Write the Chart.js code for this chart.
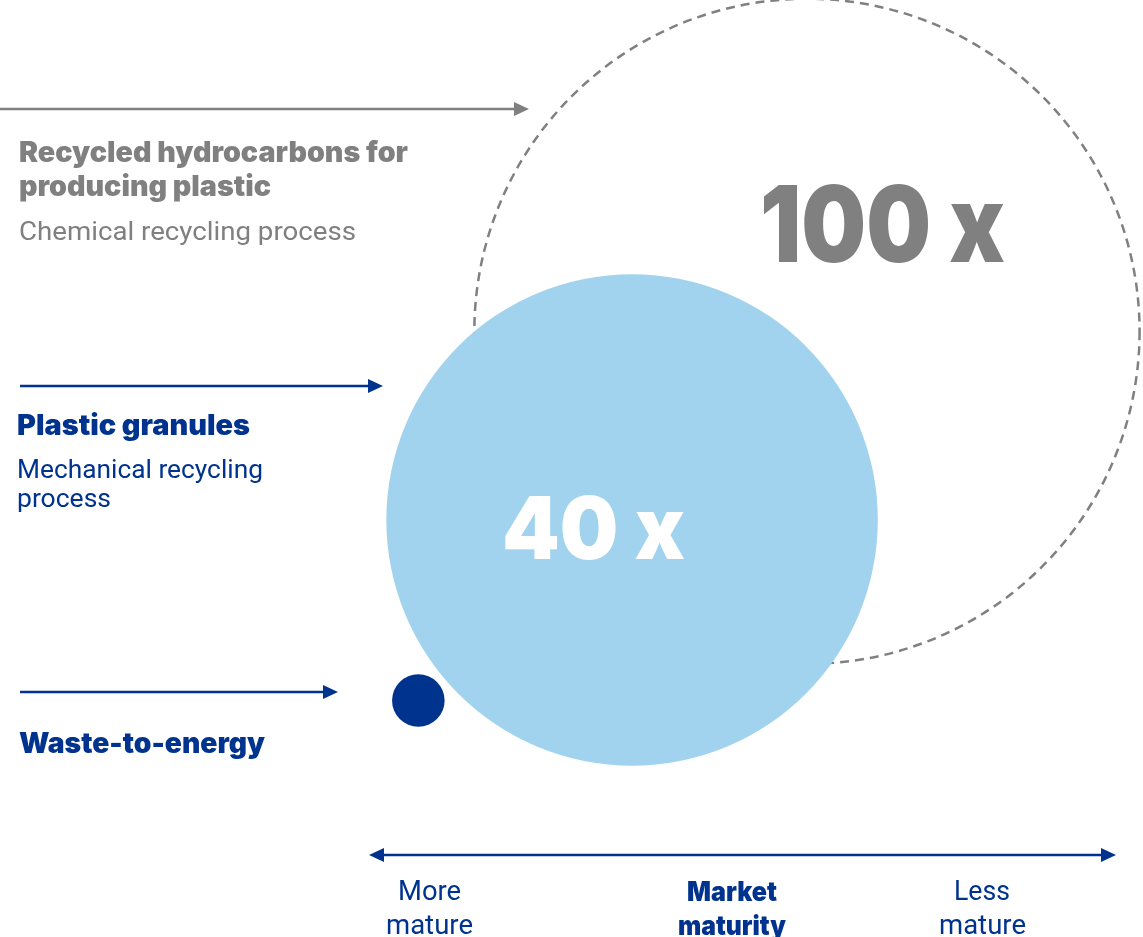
<!DOCTYPE html>
<html>
<head>
<meta charset="utf-8">
<script src="https://cdn.jsdelivr.net/npm/chart.js@4/dist/chart.umd.min.js"></script>
<style>
  html, body { margin: 0; padding: 0; background: #fff; }
  #wrap { position: relative; width: 1143px; height: 937px; overflow: hidden; font-family: Roboto, "Noto Sans", sans-serif; }
  #chart { position: absolute; left: 0; top: 0; }
  .lbl { position: absolute; white-space: nowrap; transform-origin: 0 50%; }
  .grey { color: #808080; }
  .navy { color: #00338d; }
  .title { font-family: Inter, Roboto, sans-serif; font-size: 28px; font-weight: 900; line-height: 33px; }
  .sub { font-size: 25px; font-weight: 400; line-height: 29px; }
  .big { font-family: Inter, Roboto, sans-serif; font-weight: 900; line-height: 1; }
  .axis { font-size: 27px; line-height: 33px; color: #00338d; }
  .axis.b { font-family: Inter, Roboto, sans-serif; font-weight: 900; }
</style>
</head>
<body>
<div id="wrap">
  <canvas id="chart" width="1143" height="937"></canvas>

  <div class="lbl grey title" data-w="389" style="left:19px; top:136px;">Recycled hydrocarbons for</div>
  <div class="lbl grey title" data-w="252" style="left:19px; top:170px;">producing plastic</div>
  <div class="lbl grey sub" data-w="337" style="left:19px; top:217px;">Chemical recycling process</div>

  <div class="lbl navy title" data-w="233" style="left:17px; top:409px;">Plastic granules</div>
  <div class="lbl navy sub" data-w="246" style="left:17px; top:455px;">Mechanical recycling</div>
  <div class="lbl navy sub" data-w="94" style="left:17px; top:484px;">process</div>

  <div class="lbl navy title" data-w="246" style="left:19px; top:727px;">Waste-to-energy</div>

  <div class="lbl big" data-w="245" style="left:760px; top:171px; font-size:106px; color:#808080;">100 x</div>
  <div class="lbl big" data-w="183" style="left:502px; top:485px; font-size:86px; color:#fff;">40 x</div>

  <div class="lbl axis" data-w="63" style="left:398px; top:875px;">More</div>
  <div class="lbl axis" data-w="87" style="left:386px; top:909px;">mature</div>
  <div class="lbl axis b" data-w="90" style="left:687px; top:875px;">Market</div>
  <div class="lbl axis b" data-w="108" style="left:678px; top:909px;">maturity</div>
  <div class="lbl axis" data-w="56" style="left:954px; top:875px;">Less</div>
  <div class="lbl axis" data-w="87" style="left:939px; top:909px;">mature</div>
</div>

<script>
// data (x = market maturity, y = level, size = bubble radius in axis units)
const categories = ["Waste-to-energy", "Plastic granules", "Recycled hydrocarbons for producing plastic"];
const maturity = [36.6, 55.3, 70.6];
const level = [20.7, 36.5, 53.0];
const bubbleSize = [2.3, 21.5, 29.1];
const multipliers = ["", "40 x", "100 x"];

const X_MIN = 0, X_MAX = 100;
const Y_MIN = 0, Y_MAX = 82;

const NAVY = "#00338d";
const LIGHT = "#a2d3ee";
const GREY = "#808080";

// radius from axis units to pixels (chart area fills the canvas)
function sizeToPx(ctx) {
  return ctx.raw.size * ctx.chart.width / (X_MAX - X_MIN);
}

function point(i) {
  return { x: maturity[i], y: level[i], size: bubbleSize[i], label: categories[i] };
}

// bubbles have no borderDash option, so set it around the dataset draw
const dashPlugin = {
  id: "dash",
  beforeDatasetDraw(chart, args) {
    const ds = chart.data.datasets[args.index];
    chart.ctx.save();
    if (ds.dash) chart.ctx.setLineDash(ds.dash);
  },
  afterDatasetDraw(chart) {
    chart.ctx.restore();
  }
};

// arrows next to the labels and the maturity axis
const arrowsPlugin = {
  id: "arrows",
  afterDraw(chart) {
    const c = chart.ctx;
    function head(x, y, dir) {
      c.beginPath();
      c.moveTo(x, y);
      c.lineTo(x - dir * 15, y - 7);
      c.lineTo(x - dir * 15, y + 7);
      c.closePath();
      c.fill();
    }
    function arrow(x1, x2, y, color, both) {
      c.save();
      c.strokeStyle = color;
      c.fillStyle = color;
      c.lineWidth = 2.5;
      c.beginPath();
      c.moveTo(both ? x1 + 8 : x1, y);
      c.lineTo(x2 - 8, y);
      c.stroke();
      head(x2, y, 1);
      if (both) head(x1, y, -1);
      c.restore();
    }
    arrow(0, 529, 109, GREY);
    arrow(20, 383, 386, NAVY);
    arrow(20, 338, 692, NAVY);
    arrow(369, 1116, 855, NAVY, true);
  }
};

new Chart(document.getElementById("chart"), {
  type: "bubble",
  data: {
    datasets: [
      {
        label: categories[0],
        data: [point(0)],
        backgroundColor: NAVY,
        borderWidth: 0,
        radius: sizeToPx
      },
      {
        label: categories[1],
        data: [point(1)],
        backgroundColor: LIGHT,
        borderWidth: 0,
        radius: sizeToPx
      },
      {
        label: categories[2],
        data: [point(2)],
        backgroundColor: "rgba(0,0,0,0)",
        borderColor: GREY,
        borderWidth: 2.5,
        dash: [9, 6],
        radius: sizeToPx
      }
    ]
  },
  options: {
    responsive: false,
    devicePixelRatio: 1,
    animation: false,
    events: [],
    clip: false,
    layout: { padding: 0, autoPadding: false },
    scales: {
      x: { type: "linear", min: X_MIN, max: X_MAX, display: false },
      y: { type: "linear", min: Y_MIN, max: Y_MAX, display: false }
    },
    plugins: {
      legend: { display: false },
      tooltip: { enabled: false }
    }
  },
  plugins: [dashPlugin, arrowsPlugin]
});

// squeeze/stretch each label to the width it has in the picture
function fitLabels() {
  document.querySelectorAll("[data-w]").forEach((el) => {
    el.style.transform = "none";
    const w = el.getBoundingClientRect().width;
    if (w > 0) el.style.transform = `scaleX(${el.dataset.w / w})`;
  });
}
fitLabels();
if (document.fonts) document.fonts.ready.then(fitLabels);
</script>
</body>
</html>
